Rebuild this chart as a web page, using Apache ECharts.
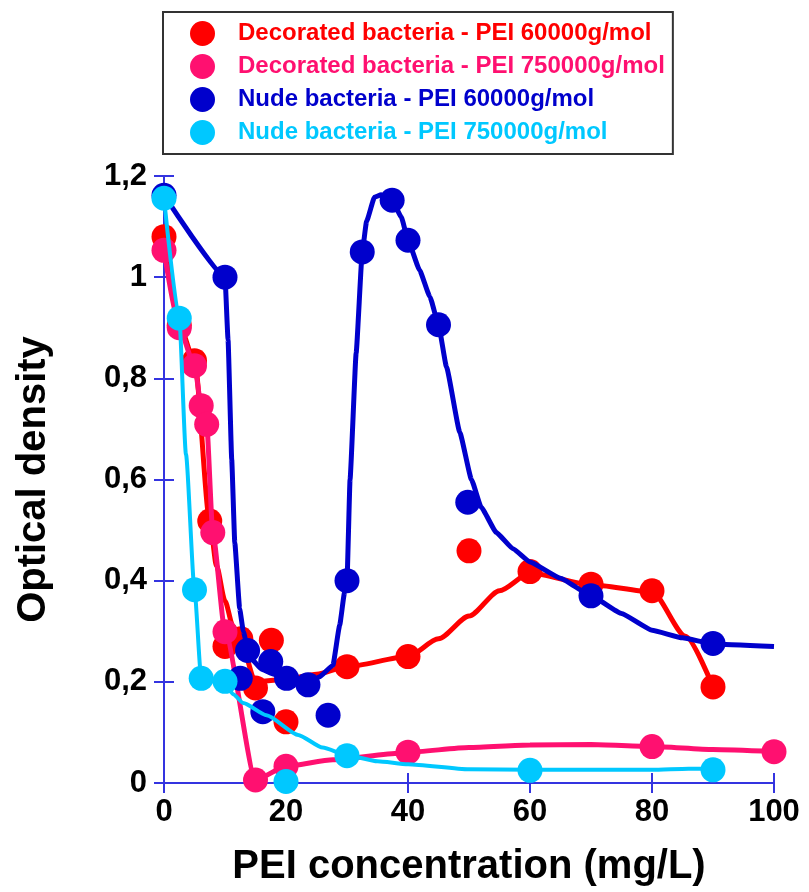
<!DOCTYPE html>
<html>
<head>
<meta charset="utf-8">
<script src="https://cdn.jsdelivr.net/npm/echarts@6/dist/echarts.min.js"></script>
<style>
html,body{margin:0;padding:0;background:#fff;}
#c{width:809px;height:892px;}
</style>
</head>
<body>
<div id="c"></div>
<script>
// ---- Data ----
const seriesNames = [
  'Decorated bacteria - PEI 60000g/mol',
  'Decorated bacteria - PEI 750000g/mol',
  'Nude bacteria - PEI 60000g/mol',
  'Nude bacteria - PEI 750000g/mol'
];
// measured points
const dec60X = [0, 2.5, 5, 7.5, 10, 12.6, 15, 17.6, 20, 30, 40, 50, 60, 70, 80, 90];
const dec60Y = [1.08, 0.905, 0.835, 0.518, 0.27, 0.285, 0.188, 0.282, 0.121, 0.23, 0.25, 0.459, 0.418, 0.393, 0.38, 0.19];
const dec750X = [0, 2.5, 5, 6.1, 7, 8, 10, 15, 20, 40, 80, 100];
const dec750Y = [1.053, 0.9, 0.825, 0.746, 0.709, 0.495, 0.299, 0.006, 0.033, 0.061, 0.072, 0.062];
const nude60X = [0, 10, 12.5, 13.7, 16.2, 17.5, 20.1, 23.6, 26.9, 30, 32.5, 37.4, 40, 45, 49.8, 70, 90];
const nude60Y = [1.162, 1.0, 0.207, 0.262, 0.141, 0.24, 0.207, 0.194, 0.134, 0.40, 1.05, 1.152, 1.073, 0.906, 0.555, 0.37, 0.276];
const nude750X = [0, 2.5, 5, 6.1, 10, 20, 30, 60, 90];
const nude750Y = [1.156, 0.919, 0.382, 0.207, 0.201, 0.003, 0.054, 0.025, 0.026];

// fitted curves
const dec60CurveX = [0, 2.5, 5, 7.5, 8.6, 10, 11.3, 12.6, 15, 20, 25, 30, 40, 45, 50, 55, 60, 70, 80, 85.5, 90];
const dec60CurveY = [1.08, 0.905, 0.835, 0.518, 0.43, 0.36, 0.31, 0.28, 0.2, 0.205, 0.215, 0.23, 0.25, 0.285, 0.33, 0.38, 0.415, 0.392, 0.378, 0.29, 0.19];
const dec750CurveX = [0, 2.5, 5, 6.1, 7, 8, 10, 15, 20, 27.7, 38.6, 40, 50, 60, 70, 80, 90, 100];
const dec750CurveY = [1.053, 0.9, 0.825, 0.746, 0.709, 0.495, 0.299, 0.006, 0.033, 0.046, 0.059, 0.061, 0.07, 0.075, 0.076, 0.072, 0.066, 0.062];
const nude60CurveX = [0, 10, 10.5, 11.1, 11.6, 12.4, 13, 14, 16, 18, 20, 23.6, 25.5, 27.7, 28.8, 29.6, 30, 30.5, 31.5, 32.5, 33.2, 34.5, 35.6, 37.4, 38.9, 40, 41.9, 43.6, 45, 46.3, 48.5, 50.4, 52, 54.5, 57.2, 60, 65, 70, 75, 80, 85, 90, 100];
const nude60CurveY = [1.162, 1.0, 0.876, 0.64, 0.476, 0.345, 0.3, 0.25, 0.225, 0.215, 0.205, 0.195, 0.21, 0.233, 0.312, 0.377, 0.40, 0.6, 0.85, 1.05, 1.11, 1.158, 1.163, 1.152, 1.119, 1.073, 1.014, 0.961, 0.906, 0.823, 0.693, 0.6, 0.545, 0.495, 0.463, 0.437, 0.405, 0.37, 0.335, 0.302, 0.287, 0.275, 0.27];
const nude750CurveX = [0, 2.5, 3.6, 5, 6.1, 10, 11.4, 13, 16.8, 22, 26, 30, 35, 40, 50, 60, 80, 86, 90];
const nude750CurveY = [1.156, 0.919, 0.65, 0.382, 0.207, 0.195, 0.175, 0.158, 0.134, 0.095, 0.07, 0.055, 0.043, 0.037, 0.027, 0.026, 0.026, 0.028, 0.028];

const xTickValues = [0, 20, 40, 60, 80, 100];
const yTickLabels = ['0', '0,2', '0,4', '0,6', '0,8', '1', '1,2'];

const colors = ['#ff0000', '#ff1070', '#0000cc', '#00c8ff'];

// ---- Build ----
const zip = (xs, ys) => xs.map((x, i) => [x, ys[i]]);
const FONT = '"Liberation Sans", Arial, Helvetica, sans-serif';
const frameColor = '#3434e0';

const pts = [zip(dec60X, dec60Y), zip(dec750X, dec750Y), zip(nude60X, nude60Y), zip(nude750X, nude750Y)];
const curves = [zip(dec60CurveX, dec60CurveY), zip(dec750CurveX, dec750CurveY), zip(nude60CurveX, nude60CurveY), zip(nude750CurveX, nude750CurveY)];
const lineWidths = [5, 5, 5, 4];
const smoothness = [0.25, 0.2, 0.12, 0.2];

const series = [];
for (let i = 0; i < 4; i++) {
  series.push({
    type: 'line', name: 'fit' + i, data: curves[i], smooth: smoothness[i], smoothMonotone: 'x',
    symbol: 'none', lineStyle: {color: colors[i], width: lineWidths[i]}, z: 2 + i * 2,
    silent: true, animation: false
  });
  series.push({
    type: 'scatter', name: seriesNames[i], data: pts[i], symbol: 'circle', symbolSize: 25,
    itemStyle: {color: colors[i], opacity: 1}, z: 3 + i * 2, clip: false, animation: false
  });
}

const chart = echarts.init(document.getElementById('c'), null, {renderer: 'canvas'});
const yFmt = v => {
  const idx = Math.round(v / 0.2);
  return yTickLabels[idx] !== undefined ? yTickLabels[idx] : '';
};
chart.setOption({
  animation: false,
  backgroundColor: '#fff',
  grid: {left: 164, right: 35, top: 176, bottom: 107, containLabel: false},
  legend: {
    orient: 'vertical', left: 163, top: 12,
    padding: [9, 8, 9, 27],
    itemWidth: 25, itemHeight: 25, itemGap: 8,
    backgroundColor: '#fff', borderColor: '#333', borderWidth: 2, borderRadius: 0,
    icon: 'circle',
    data: seriesNames.map((n, i) => ({name: n, icon: 'circle', textStyle: {color: colors[i]}})),
    textStyle: {fontFamily: FONT, fontWeight: 'bold', fontSize: 24, padding: [0, 0, 0, 18]},
    selectedMode: false
  },
  xAxis: [{
    type: 'value', min: 0, max: 100, interval: 20, position: 'bottom',
    name: 'PEI concentration (mg/L)', nameLocation: 'middle', nameGap: 64,
    nameTextStyle: {fontFamily: FONT, fontWeight: 'bold', fontSize: 40, color: '#000'},
    axisLine: {show: true, lineStyle: {color: frameColor, width: 2}},
    axisTick: {show: true, inside: true, length: 10, lineStyle: {color: frameColor, width: 2}},
    axisLabel: {fontFamily: FONT, fontWeight: 'bold', fontSize: 31, color: '#000', margin: 14,
      formatter: v => (xTickValues.indexOf(v) >= 0 ? String(v) : '')},
    splitLine: {show: false}
  }, {
    type: 'value', min: 0, max: 100, interval: 20, position: 'top',
    axisLine: {show: true, lineStyle: {color: frameColor, width: 2}},
    axisTick: {show: true, inside: true, length: 10, lineStyle: {color: frameColor, width: 2}},
    axisLabel: {show: false}, splitLine: {show: false}
  }],
  yAxis: [{
    type: 'value', min: 0, max: 1.2, interval: 0.2, position: 'left',
    name: 'Optical density', nameLocation: 'middle', nameGap: 110, nameRotate: 90,
    nameTextStyle: {fontFamily: FONT, fontWeight: 'bold', fontSize: 40, color: '#000'},
    axisLine: {show: true, lineStyle: {color: frameColor, width: 2}},
    axisTick: {show: true, inside: true, length: 10, lineStyle: {color: frameColor, width: 2}},
    axisLabel: {fontFamily: FONT, fontWeight: 'bold', fontSize: 31, color: '#000', margin: 17, formatter: yFmt},
    splitLine: {show: false}
  }, {
    type: 'value', min: 0, max: 1.2, interval: 0.2, position: 'right',
    axisLine: {show: true, lineStyle: {color: frameColor, width: 2}},
    axisTick: {show: true, inside: true, length: 10, lineStyle: {color: frameColor, width: 2}},
    axisLabel: {show: false}, splitLine: {show: false}
  }],
  series: series
});
</script>
</body>
</html>
